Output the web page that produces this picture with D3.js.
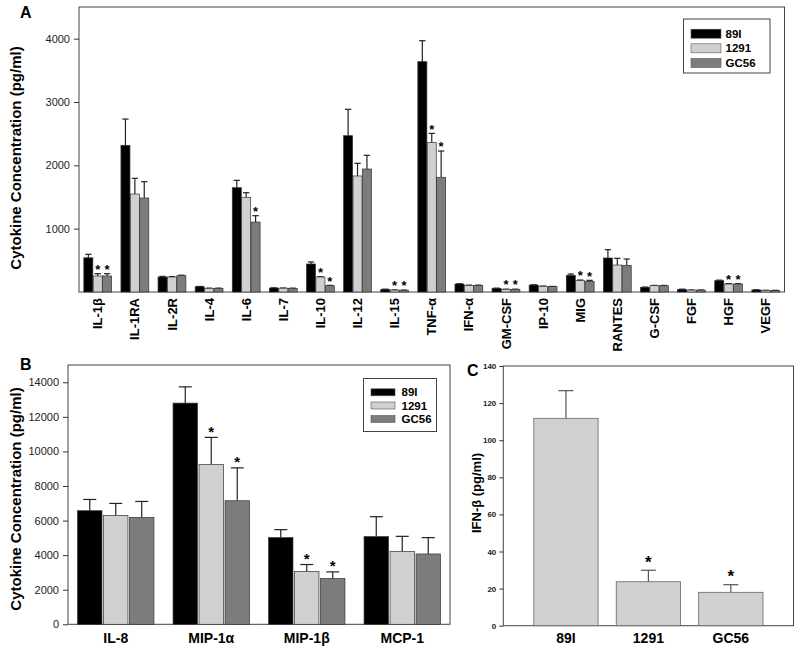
<!DOCTYPE html>
<html>
<head>
<meta charset="utf-8">
<script src="https://cdn.jsdelivr.net/npm/d3@7"></script>
<style>
  body { margin: 0; background: #fff; }
  svg text { font-family: "Liberation Sans", Arial, sans-serif; }
</style>
</head>
<body>
<div id="chart"></div>
<script>
// strains
var strains = ["89I", "1291", "GC56"]
var strainColors = ["#000000", "#d0d0d0", "#7c7c7c"]

// panel A
var cytoA = ["IL-1β", "IL-1RA", "IL-2R", "IL-4", "IL-6", "IL-7", "IL-10", "IL-12", "IL-15", "TNF-α",
    "IFN-α", "GM-CSF", "IP-10", "MIG", "RANTES", "G-CSF", "FGF", "HGF", "VEGF"]
var a89I   = [540, 2316, 237, 84, 1647, 63, 442, 2468, 42, 3637, 126, 58, 110, 263, 537, 74, 42, 179, 32]
var a1291  = [253, 1547, 237, 58, 1495, 60, 237, 1832, 30, 2358, 105, 42, 90, 179, 426, 100, 30, 126, 25]
var aGC56  = [253, 1484, 258, 58, 1105, 58, 100, 1942, 28, 1811, 105, 42, 85, 168, 421, 100, 30, 126, 25]
var a89IErr  = [55, 415, 10, 4, 116, 3, 32, 416, 3, 331, 5, 3, 4, 21, 131, 4, 3, 8, 3]
var a1291Err = [36, 248, 6, 3, 73, 3, 5, 200, 3, 147, 4, 3, 4, 10, 106, 4, 2, 6, 2]
var aGC56Err = [36, 258, 7, 3, 100, 3, 5, 216, 3, 415, 4, 3, 4, 16, 100, 4, 2, 6, 2]
var aStars1291 = ["IL-1β", "IL-10", "IL-15", "TNF-α", "GM-CSF", "MIG", "HGF"]
var aStarsGC56 = ["IL-1β", "IL-6", "IL-10", "IL-15", "TNF-α", "GM-CSF", "MIG", "HGF"]
var aTicks = [1000, 2000, 3000, 4000]

// panel B
var cytoB = ["IL-8", "MIP-1α", "MIP-1β", "MCP-1"]
var b89I   = [6571, 12795, 5014, 5072]
var b1291  = [6300, 9239, 3055, 4207]
var bGC56  = [6184, 7147, 2651, 4069]
var b89IErr  = [651, 940, 462, 1153]
var b1291Err = [692, 1574, 403, 882]
var bGC56Err = [923, 1902, 381, 945]
var bStars1291 = ["MIP-1α", "MIP-1β"]
var bStarsGC56 = ["MIP-1α", "MIP-1β"]
var bTicks = [0, 2000, 4000, 6000, 8000, 10000, 12000, 14000]

// panel C
var ifnB = [111.8, 23.7, 18.0]
var ifnBErr = [14.9, 6.2, 4.1]
var cStars = ["1291", "GC56"]
var cTicks = [0, 20, 40, 60, 80, 100, 120, 140]

var svg = d3.select("#chart").append("svg")
    .attr("width", 800)
    .attr("height", 650)

function frame(g, x0, x1, y0, y1) {
    g.append("rect")
        .attr("x", x0).attr("y", y0)
        .attr("width", x1 - x0).attr("height", y1 - y0)
        .attr("fill", "none")
        .attr("stroke", "#444")
        .attr("stroke-width", 1)
}

function yAxis(g, y, x0, ticks, fs, bold, size, pad) {
    var ax = g.append("g")
        .attr("transform", "translate(" + x0 + ",0)")
        .call(d3.axisLeft(y).tickValues(ticks).tickSize(size || 5).tickPadding(pad || 4).tickFormat(d3.format("d")))
    ax.select(".domain").remove()
    ax.selectAll("line").attr("stroke", "#333")
    ax.selectAll("text")
        .style("font-size", fs + "px")
        .style("font-weight", bold ? "bold" : "normal")
        .attr("fill", "#222")
}

function star(g, x, errTop, gap, fs) {
    g.append("text")
        .attr("x", x)
        .attr("y", errTop - gap + 0.56 * fs)
        .attr("text-anchor", "middle")
        .style("font-size", fs + "px")
        .style("font-weight", "bold")
        .text("*")
}

function legend(g, x, y, w, h, sw, rowY, textX, fs, swH) {
    g.append("rect").attr("x", x).attr("y", y).attr("width", w).attr("height", h)
        .attr("fill", "#fff").attr("stroke", "#444")
    strains.forEach(function(s, i) {
        g.append("rect")
            .attr("x", sw[0]).attr("y", rowY[i] - swH / 2)
            .attr("width", sw[1] - sw[0]).attr("height", swH)
            .attr("fill", strainColors[i]).attr("stroke", "#555").attr("stroke-width", 0.6)
        g.append("text")
            .attr("x", textX).attr("y", rowY[i]).attr("dy", "0.35em")
            .style("font-size", fs + "px").style("font-weight", "bold")
            .text(s)
    })
}

function groupedPanel(opt) {
    var g = svg.append("g")
    var x = d3.scaleBand().domain(opt.cats).range([opt.x0, opt.x1])
        .paddingInner(opt.padIn).paddingOuter(opt.padOut)
    var xs = d3.scaleBand().domain(strains).range([0, x.bandwidth()]).paddingInner(opt.subPad)
    var y = d3.scaleLinear().domain([0, opt.ymax]).range([opt.y1, opt.y0])

    frame(g, opt.x0, opt.x1, opt.y0, opt.y1)
    yAxis(g, y, opt.x0, opt.ticks, opt.tickFs, false)

    var bw = xs.bandwidth()
    var cap = Math.min(bw * 0.7, 13)
    strains.forEach(function(s, si) {
        var vals = opt.values[si], errs = opt.errs[si], stars = opt.stars[si]
        opt.cats.forEach(function(c, ci) {
            var bx = x(c) + xs(s)
            var top = y(vals[ci])
            var errTop = y(vals[ci] + errs[ci])
            var cx = bx + bw / 2
            if (errs[ci] > 0) {
                g.append("line").attr("x1", cx).attr("x2", cx).attr("y1", top).attr("y2", errTop)
                    .attr("stroke", "#222").attr("stroke-width", 1.2)
                g.append("line").attr("x1", cx - cap / 2).attr("x2", cx + cap / 2)
                    .attr("y1", errTop).attr("y2", errTop)
                    .attr("stroke", "#222").attr("stroke-width", 1.2)
            }
            g.append("rect")
                .attr("x", bx).attr("y", top)
                .attr("width", bw).attr("height", y(0) - top)
                .attr("fill", strainColors[si])
                .attr("stroke", "#333").attr("stroke-width", 0.7)
            if (stars && stars.indexOf(c) >= 0) star(g, cx, errTop, opt.starGap, opt.starFs)
        })
    })

    // category labels
    opt.cats.forEach(function(c) {
        var cx = x(c) + x.bandwidth() / 2
        var t = g.append("text")
            .style("font-size", opt.catFs + "px")
            .style("font-weight", "bold")
            .text(c)
        if (opt.rotate) {
            t.attr("transform", "translate(" + cx + "," + (opt.y1 + 6) + ") rotate(-90)")
                .attr("text-anchor", "end").attr("dy", "0.35em")
        } else {
            t.attr("x", cx).attr("y", opt.y1 + 14).attr("dy", "0.35em").attr("text-anchor", "middle")
        }
    })
    return g
}

// ---- panel A
var gA = groupedPanel({
    cats: cytoA, x0: 79, x1: 784.5, y0: 7, y1: 292, ymax: 4500, ticks: aTicks,
    padIn: 0.25, padOut: 0.13, subPad: 0.04,
    values: [a89I, a1291, aGC56], errs: [a89IErr, a1291Err, aGC56Err],
    stars: [[], aStars1291, aStarsGC56],
    tickFs: 11, catFs: 13, rotate: true, starGap: 7, starFs: 13
})
legend(gA, 683.5, 19, 86.5, 54, [691, 721], [33.7, 48.3, 63], 725.5, 11.5, 9)

// ---- panel B
var gB = groupedPanel({
    cats: cytoB, x0: 68, x1: 450, y0: 365, y1: 624.3, ymax: 15000, ticks: bTicks,
    padIn: 0.2, padOut: 0.1, subPad: 0.06,
    values: [b89I, b1291, bGC56], errs: [b89IErr, b1291Err, bGC56Err],
    stars: [[], bStars1291, bStarsGC56],
    tickFs: 11, catFs: 14, rotate: false, starGap: 9, starFs: 15
})
legend(gB, 363.5, 378.5, 73, 53, [371, 395], [392.3, 405.5, 419], 401.5, 11.5, 7)

// ---- panel C
var gC = svg.append("g")
var xC = d3.scaleBand().domain(strains).range([503.3, 793.5]).paddingInner(0.22).paddingOuter(0.37)
var yC = d3.scaleLinear().domain([0, 140]).range([625.7, 366])
frame(gC, 503.3, 793.5, 366, 625.7)
yAxis(gC, yC, 503.3, cTicks, 8, true, 4, 3)
strains.forEach(function(s, i) {
    var bx = xC(s), bw = xC.bandwidth(), cx = bx + bw / 2
    var top = yC(ifnB[i]), errTop = yC(ifnB[i] + ifnBErr[i])
    gC.append("line").attr("x1", cx).attr("x2", cx).attr("y1", top).attr("y2", errTop)
        .attr("stroke", "#555").attr("stroke-width", 1.2)
    gC.append("line").attr("x1", cx - 7.5).attr("x2", cx + 7.5).attr("y1", errTop).attr("y2", errTop)
        .attr("stroke", "#555").attr("stroke-width", 1.2)
    gC.append("rect").attr("x", bx).attr("y", top)
        .attr("width", bw).attr("height", yC(0) - top)
        .attr("fill", "#d0d0d0").attr("stroke", "#666").attr("stroke-width", 0.8)
    if (cStars.indexOf(s) >= 0) star(gC, cx, errTop, 12, 17)
    gC.append("text").attr("x", cx).attr("y", 638).attr("dy", "0.35em")
        .attr("text-anchor", "middle")
        .style("font-size", "14px").style("font-weight", "bold")
        .text(s)
})

// titles and panel letters
function yTitle(x, y, txt, fs) {
    svg.append("text")
        .attr("transform", "translate(" + x + "," + y + ") rotate(-90)")
        .attr("text-anchor", "middle").attr("dy", "0.35em")
        .style("font-size", fs + "px").style("font-weight", "bold")
        .text(txt)
}
yTitle(16, 158, "Cytokine Concentration (pg/ml)", 15)
yTitle(16, 499, "Cytokine Concentration (pg/ml)", 15)
yTitle(476, 493, "IFN-β (pg/ml)", 13)

function letter(x, y, t) {
    svg.append("text").attr("x", x).attr("y", y)
        .style("font-size", "16px").style("font-weight", "bold").text(t)
}
letter(20, 18, "A")
letter(20, 370, "B")
letter(467, 376, "C")
</script>
</body>
</html>
